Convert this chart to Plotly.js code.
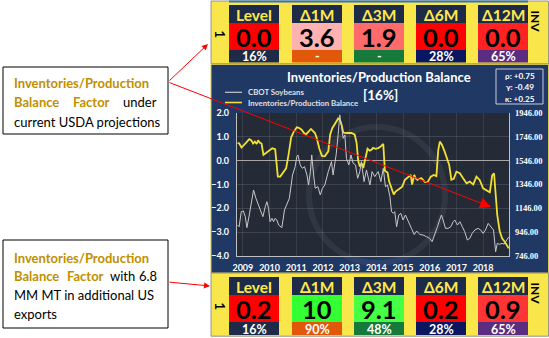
<!DOCTYPE html>
<html><head><meta charset="utf-8">
<script src="https://cdn.plot.ly/plotly-3.0.1.min.js"></script>
<style>html,body{margin:0;padding:0;background:#fff}#chart{width:549px;height:338px}</style>
</head><body><div id="chart"></div>
<script>
// ---------- DATA ----------
const yearTicks = [2009,2010,2011,2012,2013,2014,2015,2016,2017,2018];
const priceTicks = [746,946,1146,1346,1546,1746,1946];

const balanceT = [2008.80,2008.86,2008.95,2009.05,2009.14,2009.24,2009.32,2009.38,2009.45,2009.52,
2009.57,2009.64,2009.70,2009.77,2009.90,2010.02,2010.10,2010.21,2010.27,2010.31,
2010.40,2010.52,2010.62,2010.71,2010.81,2010.90,2011.02,2011.10,2011.20,2011.30,
2011.36,2011.46,2011.55,2011.62,2011.70,2011.77,2011.86,2011.96,2012.07,2012.20,
2012.27,2012.35,2012.45,2012.57,2012.64,2012.70,2012.76,2012.88,2013.07,2013.19,
2013.26,2013.32,2013.38,2013.45,2013.51,2013.60,2013.67,2013.75,2013.82,2013.88,
2013.96,2014.07,2014.15,2014.26,2014.32,2014.42,2014.48,2014.57,2014.65,2014.72,
2014.85,2014.97,2015.07,2015.19,2015.29,2015.34,2015.42,2015.48,2015.54,2015.63,
2015.69,2015.82,2015.92,2016.04,2016.15,2016.25,2016.32,2016.38,2016.46,2016.56,
2016.65,2016.73,2016.81,2016.90,2017.00,2017.13,2017.25,2017.38,2017.50,2017.63,
2017.75,2017.87,2018.00,2018.12,2018.25,2018.30,2018.34,2018.41,2018.47,2018.53,
2018.62,2018.71,2018.81,2018.91,2018.96];
const balanceV = [0.74,0.73,0.55,0.65,0.78,0.9,0.85,0.72,0.8,0.7,
0.85,0.75,0.72,0.24,0.34,0.45,0.52,0.48,-0.18,-0.67,
-0.67,-0.46,-0.32,0.24,0.98,1.2,1.4,1.38,1.3,1.15,
1.1,1.22,1.33,1.25,1.16,0.94,0.52,0.2,0.18,0.39,
1.1,1.36,1.55,1.77,1.7,1.5,1.18,1.16,1.16,1.09,
0.75,0.0,-0.25,-0.1,-0.31,0.1,0.5,0.42,0.46,0.54,
0.5,0.53,0.58,0.7,-0.42,-0.5,-0.88,-1.16,-1.42,-1.3,
-1.18,-1.09,-0.8,-0.7,-0.6,-1.0,-0.6,-0.75,-0.81,-0.75,
-0.74,-0.9,-0.9,-0.67,-0.6,-0.65,0.45,0.8,0.66,0.38,
0.1,-0.18,-0.8,-0.76,-0.46,-0.53,-0.74,-0.95,-0.88,-1.0,
-0.67,-0.81,-1.16,-1.23,-1.33,-0.95,-0.62,-0.53,-1.3,-2.28,
-2.95,-3.26,-3.4,-3.62,-3.68];

const soyT = [2008.80,2008.86,2008.94,2009.02,2009.09,2009.15,2009.24,2009.34,2009.40,2009.49,
2009.59,2009.69,2009.75,2009.84,2009.90,2009.96,2010.02,2010.09,2010.15,2010.21,
2010.27,2010.34,2010.46,2010.56,2010.65,2010.74,2010.81,2010.86,2010.96,2011.02,
2011.06,2011.15,2011.23,2011.31,2011.40,2011.46,2011.53,2011.58,2011.65,2011.71,
2011.81,2011.90,2011.98,2012.07,2012.20,2012.32,2012.38,2012.50,2012.57,2012.63,
2012.76,2012.82,2012.88,2012.97,2013.05,2013.13,2013.22,2013.30,2013.38,2013.44,
2013.54,2013.63,2013.76,2013.84,2013.94,2014.07,2014.17,2014.26,2014.34,2014.42,
2014.51,2014.57,2014.63,2014.69,2014.76,2014.84,2014.92,2015.00,2015.09,2015.19,
2015.32,2015.42,2015.51,2015.63,2015.75,2015.88,2016.00,2016.09,2016.19,2016.29,
2016.37,2016.44,2016.50,2016.59,2016.69,2016.79,2016.88,2016.94,2017.04,2017.13,
2017.22,2017.31,2017.41,2017.50,2017.59,2017.69,2017.81,2017.91,2018.00,2018.09,
2018.19,2018.29,2018.39,2018.47,2018.53,2018.62,2018.71,2018.79,2018.87,2018.96];
const soyV = [1006,992,1118,1124,1076,984,1090,1202,1300,1230,
1174,1104,1076,1160,1202,1146,1034,1062,1034,1062,
1048,1006,984,1132,1174,1230,1342,1426,1496,1580,
1594,1510,1482,1496,1426,1342,1454,1594,1426,1314,
1328,1258,1314,1342,1454,1538,1426,1606,1766,1930,
1734,1762,1566,1510,1594,1524,1510,1398,1454,1538,
1370,1468,1342,1454,1412,1454,1370,1482,1328,1342,
1244,1118,1104,1118,992,1090,1104,1048,1090,1034,
976,926,956,926,922,908,894,866,922,992,
1048,1090,1048,978,978,992,1034,1048,1006,1034,
992,950,880,894,936,964,978,964,936,964,
1020,992,964,782,852,844,852,846,876,906];

const headers = ['Level','Δ1M','Δ3M','Δ6M','Δ12M'];
const currentValues = [0.0, 3.6, 1.9, 0.0, 0.0];
const currentPct = [16, null, null, 28, 65];
const exportValues = [0.2, 10, 9.1, 0.2, 0.9];
const exportPct = [16, 90, 48, 28, 65];
const statLines = ['ρ: +0.75', 'γ: -0.49', 'κ: +0.25'];
const chartTitle = 'Inventories/Production Balance';
const chartSub = '[16%]';
const seriesNames = ['CBOT Soybeans', 'Inventories/Production Balance'];

// ---------- STYLE ----------
const currentValueColors = ['#FF0000','#FFB2B2','#FF6A6A','#FF0000','#FF2222'];
const exportValueColors  = ['#FF0000','#33FF33','#44FF44','#FF0000','#FF3535'];
const pctColors = ['#1E2B48','#E2580B','#167A3A','#0B1660','#5A2D80'];
const headerColor = '#1E2B48';
const panelYellow = '#F9E64B';
const gold = '#BF9000';
const FONT = 'Lato';

const L = 237, R = 509, T = 113, B = 256;
const px = x => (x - L) / (R - L);
const py = y => (B - y) / (B - T);

const shapes = [];
const annotations = [];
function rect(x0, y0, x1, y1, fill, lc, lw) {
  shapes.push({type:'rect', xref:'paper', yref:'paper', layer:'below',
    x0:px(x0), x1:px(x1), y0:py(y1), y1:py(y0), fillcolor:fill,
    line:{color:lc || 'rgba(0,0,0,0)', width: lw || 0}});
}
function seg(x0, y0, x1, y1, color, w) {
  shapes.push({type:'line', xref:'paper', yref:'paper', layer:'below',
    x0:px(x0), x1:px(x1), y0:py(y0), y1:py(y1), line:{color:color, width:w}});
}
function txt(x, y, s, size, color, opts) {
  opts = opts || {};
  annotations.push(Object.assign({xref:'paper', yref:'paper', x:px(x), y:py(y), text:s,
    showarrow:false, xanchor:'center', yanchor:'middle', borderpad:0,
    font:{family:FONT, size:size, color:color, weight: opts.weight || 700}}, opts.extra || {}));
}

// chart panel background
rect(211, 64.5, 548.5, 273, '#203864', '#D8C64A', 1);
rect(L, T, R, B, '#242B37');
shapes.push({type:'circle', xref:'paper', yref:'paper', layer:'below',
  x0:px(309), x1:px(445), y0:py(263), y1:py(127), line:{color:'rgba(255,255,255,0.06)', width:6}});

// panels
function panel(rows, values, vColors, pcts) {
  rect(211, rows[0] - 4, 548.5, rows[3] + 1.2, panelYellow, '#7F7F7F', 0.8);
  const colX = [229, 292, 354, 416, 478], cw = 50;
  headers.forEach((h, i) => {
    const x0 = colX[i], xc = x0 + cw / 2;
    rect(x0, rows[0], x0 + cw, rows[1], headerColor);
    rect(x0, rows[1], x0 + cw, rows[2], vColors[i]);
    rect(x0, rows[2], x0 + cw, rows[3], pctColors[i]);
    txt(xc, (rows[0] + rows[1]) / 2 + 0.5, h, 15.5, '#FFE94A');
    const v = values[i];
    txt(xc, (rows[1] + rows[2]) / 2 + 0.5, v >= 10 ? v.toFixed(0) : v.toFixed(1), 25.5, '#000000');
    txt(xc, (rows[2] + rows[3]) / 2 + 0.5, pcts[i] == null ? '-' : pcts[i] + '%', 12.5, '#FFFFFF');
  });
  txt(220, (rows[1] + rows[2]) / 2 - 2, '1', 13, '#000', {extra:{textangle:90}});
  txt(535, (rows[0] + rows[2]) / 2 - 6, 'INV', 12, '#000', {extra:{textangle:90}});
}
panel([5, 23, 50, 62.5], currentValues, currentValueColors, currentPct);
seg(229, 1.5, 528, 1.5, '#2E75B6', 2);
panel([277, 295, 322, 335], exportValues, exportValueColors, exportPct);

// title, legend, stats
txt(379, 77.5, chartTitle, 13, '#FFFFFF');
txt(380, 94.5, chartSub, 13.5, '#FFFFFF');
seg(225, 92.3, 242, 92.3, '#C8C8C8', 1.2);
seg(225, 102.5, 242, 102.5, '#F2E130', 1.6);
txt(247, 92.3, seriesNames[0], 7.8, '#E0E0E0', {extra:{xanchor:'left'}});
txt(247, 102.5, seriesNames[1], 7.8, '#E0E0E0', {extra:{xanchor:'left'}});
rect(496, 69, 543, 104, '#21396A', '#C8CCD8', 1);
statLines.forEach((s, i) => txt(519.5, 76 + i * 11.3, s, 8.2, '#FFFFFF'));

// text boxes
rect(3, 67, 168, 134, '#FFFFFF', '#000000', 1);
txt(13, 83, 'Inventories/Production', 13, gold, {extra:{xanchor:'left'}});
txt(13, 102, 'Balance', 13, gold, {extra:{xanchor:'left'}});
txt(91, 102, 'Factor', 13, gold);
txt(158, 102, 'under', 13, '#000', {weight:400, extra:{xanchor:'right'}});
txt(13, 122, 'current USDA projections', 13, '#000', {weight:400, extra:{xanchor:'left'}});

rect(3, 240, 168, 328, '#FFFFFF', '#000000', 1);
txt(13, 258, 'Inventories/Production', 13, gold, {extra:{xanchor:'left'}});
txt(13, 276, 'Balance', 13, gold, {extra:{xanchor:'left'}});
txt(85, 276, 'Factor', 13, gold);
txt(122, 276, 'with', 13, '#000', {weight:400});
txt(158, 276, '6.8', 13, '#000', {weight:400, extra:{xanchor:'right'}});
txt(13, 295, 'MM MT in additional US', 13, '#000', {weight:400, extra:{xanchor:'left'}});
txt(13, 314, 'exports', 13, '#000', {weight:400, extra:{xanchor:'left'}});

// red arrows
function arrow(hx, hy, tx, ty, size) {
  annotations.push({xref:'paper', yref:'paper', x:px(hx), y:py(hy), text:'', showarrow:true,
    ax:tx - hx, ay:ty - hy, axref:'pixel', ayref:'pixel', arrowhead:2, arrowsize:size,
    arrowwidth:1, arrowcolor:'#FF0000', standoff:0, startstandoff:0});
}
arrow(491, 207, 168, 82, 2.2);
arrow(208, 44, 168, 82, 1.2);
arrow(210, 286, 168, 282, 1.2);

// ---------- TRACES ----------
const traces = [
  {x: balanceT, y: balanceV, type:'scatter', mode:'lines', name: seriesNames[1],
   line:{color:'#F2E130', width:1.8}, yaxis:'y', hoverinfo:'skip'},
  {x: soyT, y: soyV, type:'scatter', mode:'lines', name: seriesNames[0],
   line:{color:'#C8C8C8', width:1}, yaxis:'y2', hoverinfo:'skip'}
];

const axisFont = {family:FONT, size:9, color:'#FFFFFF', weight:700};
const layout = {
  width:549, height:338, autosize:false,
  margin:{l:L, r:549 - R, t:T, b:338 - B, pad:0},
  paper_bgcolor:'#FFFFFF', plot_bgcolor:'rgba(0,0,0,0)',
  showlegend:false,
  xaxis:{range:[2008.78, 2018.97], tickmode:'array', tickvals:yearTicks, ticktext:yearTicks.map(String),
    tickfont:axisFont, showgrid:true, gridcolor:'rgba(255,255,255,0.09)', gridwidth:1,
    zeroline:false, showline:true, linecolor:'#BFBFBF', linewidth:1.2,
    ticks:'outside', ticklen:3, tickcolor:'rgba(0,0,0,0)', fixedrange:true},
  yaxis:{range:[-4, 2], dtick:1, tick0:0, tickformat:'.1f', tickfont:axisFont,
    showgrid:true, gridcolor:'rgba(255,255,255,0.12)', gridwidth:1,
    zeroline:true, zerolinecolor:'#A6A6A6', zerolinewidth:1.6,
    showline:true, linecolor:'#BFBFBF', linewidth:1.2,
    ticks:'outside', ticklen:5, tickcolor:'rgba(0,0,0,0)', fixedrange:true},
  yaxis2:{range:[746, 1946], overlaying:'y', side:'right', tickmode:'array', tickvals:priceTicks,
    ticktext:priceTicks.map(v => v.toFixed(2)),
    tickfont:{family:'Liberation Serif', size:8.5, color:'#FFFFFF', weight:700},
    showgrid:false, zeroline:false, showline:true, linecolor:'#BFBFBF', linewidth:1.2,
    ticks:'outside', ticklen:3, tickcolor:'rgba(0,0,0,0)', fixedrange:true},
  shapes: shapes,
  annotations: annotations
};

Plotly.newPlot('chart', traces, layout, {staticPlot:true, displayModeBar:false});
</script>
</body></html>
